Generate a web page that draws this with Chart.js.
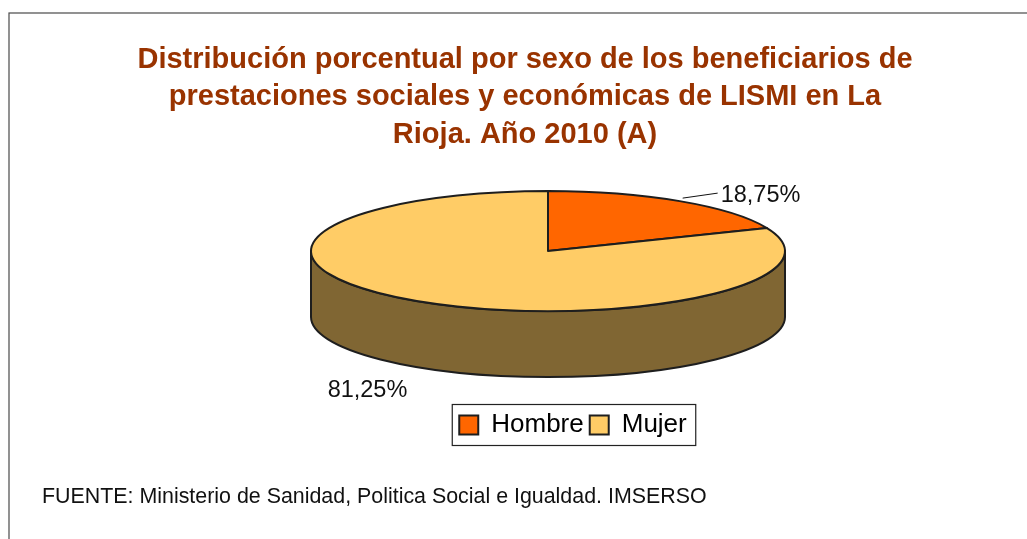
<!DOCTYPE html>
<html lang="es">
<head>
<meta charset="utf-8">
<title>Distribución porcentual por sexo - LISMI La Rioja 2010</title>
<script src="https://cdn.jsdelivr.net/npm/chart.js@4.4.1/dist/chart.umd.min.js"></script>
<style>
  html, body { margin: 0; padding: 0; background: #fff; }
  #wrap { position: relative; width: 1027px; height: 539px; }
</style>
</head>
<body>
<div id="wrap"><canvas id="chart" width="1027" height="539"></canvas></div>
<script>
/* ---------------- Data ---------------- */
const categories = ['Hombre', 'Mujer'];
const percentages = [18.75, 81.25];
const titleLines = [
  'Distribución porcentual por sexo de los beneficiarios de',
  'prestaciones sociales y económicas de LISMI en La',
  'Rioja. Año 2010 (A)'
];
const sourceNote = 'FUENTE: Ministerio de Sanidad, Politica Social e Igualdad. IMSERSO';

/* ---------------- Look ---------------- */
const FONT = '"Liberation Sans", Arial, Helvetica, sans-serif';
const topColors = ['#FF6600', '#FFCC66'];
const sideColors = ['#803300', '#806633'];
const OUTLINE = '#1e1e1e';

// 3D pie geometry (Excel style tilted pie)
const CX = 548, CY = 251, RX = 237, TILT = 60 / 237, DEPTH = 66;
const LEGEND_CX = 573, LEGEND_TOP = 406;

const fmtPct = v => v.toFixed(2).replace('.', ',') + '%';

// parts of [s,e] lying on the front half of the ellipse (sin > 0)
function frontSpans(s, e) {
  const out = [];
  for (let k = -1; k <= 1; k++) {
    const a = Math.max(s, 2 * Math.PI * k), b = Math.min(e, 2 * Math.PI * k + Math.PI);
    if (b > a) out.push([a, b]);
  }
  return out;
}

const pie3d = {
  id: 'pie3d',
  beforeDraw(chart) {
    const ctx = chart.ctx;
    ctx.save();
    ctx.strokeStyle = '#4a4a4a'; ctx.lineWidth = 1.2;
    ctx.strokeRect(9, 13, 1100, 600);
    ctx.restore();
  },
  afterLayout(chart) {
    // the pie box is the bounding box of the top face ellipse
    const ry = RX * TILT;
    Object.assign(chart.chartArea, {
      left: CX - RX, right: CX + RX, top: CY - ry, bottom: CY + ry, width: 2 * RX, height: 2 * ry
    });
    const lg = chart.legend;
    const dx = LEGEND_CX - (lg.left + lg.right) / 2, dy = LEGEND_TOP - lg.top;
    lg.left += dx; lg.right += dx; lg.top += dy; lg.bottom += dy;
  },
  beforeDatasetDraw(chart, args) {
    const ctx = chart.ctx;
    const arcs = args.meta.data;
    const { x: cx, y: cy, outerRadius: rx } = arcs[0];
    const ry = rx * TILT;
    ctx.save();
    ctx.lineJoin = 'round';
    ctx.strokeStyle = OUTLINE; ctx.lineWidth = 2;
    // side walls first
    arcs.forEach((arc, i) => {
      frontSpans(arc.startAngle, arc.endAngle).forEach(([s, e]) => {
        ctx.beginPath();
        ctx.ellipse(cx, cy, rx, ry, 0, s, e);
        ctx.lineTo(cx + rx * Math.cos(e), cy + ry * Math.sin(e) + DEPTH);
        ctx.ellipse(cx, cy + DEPTH, rx, ry, 0, e, s, true);
        ctx.closePath();
        ctx.fillStyle = sideColors[i]; ctx.fill(); ctx.stroke();
      });
    });
    // top faces
    arcs.forEach(arc => {
      ctx.beginPath();
      ctx.moveTo(cx, cy);
      ctx.ellipse(cx, cy, rx, ry, 0, arc.startAngle, arc.endAngle);
      ctx.closePath();
      ctx.fillStyle = arc.options.backgroundColor; ctx.fill(); ctx.stroke();
    });
    ctx.restore();
    return false;
  },
  afterDraw(chart) {
    const ctx = chart.ctx;
    const arcs = chart.getDatasetMeta(0).data;
    const { x: cx, y: cy, outerRadius: rx } = arcs[0];
    const ry = rx * TILT;
    ctx.save();
    // value labels
    ctx.font = '23.5px ' + FONT;
    ctx.fillStyle = '#111'; ctx.strokeStyle = '#111'; ctx.lineWidth = 1;
    ctx.textBaseline = 'middle';
    arcs.forEach((arc, i) => {
      const mid = (arc.startAngle + arc.endAngle) / 2;
      const c = Math.cos(mid), s = Math.sin(mid);
      const px = cx + rx * c, py = cy + ry * s + (s > 0 ? DEPTH : 0);
      const txt = fmtPct(percentages[i]);
      if (c > 0) {
        ctx.beginPath();
        ctx.moveTo(px + 3, py - 3);
        ctx.lineTo(px + 38, py - 8);
        ctx.stroke();
        ctx.textAlign = 'left';
        ctx.fillText(txt, px + 41, py - 6);
      } else {
        ctx.textAlign = 'right';
        ctx.fillText(txt, px - 9, py + 24);
      }
    });
    // legend frame
    const hb = chart.legend.legendHitBoxes;
    if (hb && hb.length) {
      const last = hb[hb.length - 1];
      const l = hb[0].left - 7, r = last.left + last.width + 9;
      const my = hb[0].top + hb[0].height / 2;
      ctx.strokeStyle = '#222'; ctx.lineWidth = 1.2;
      ctx.strokeRect(l, my - 20.5, r - l, 41);
    }
    // source note
    ctx.font = '21.4px ' + FONT;
    ctx.fillStyle = '#111';
    ctx.textAlign = 'left';
    ctx.fillText(sourceNote, 42, 497);
    ctx.restore();
  }
};

new Chart(document.getElementById('chart'), {
  type: 'pie',
  data: {
    labels: categories,
    datasets: [{
      data: percentages,
      backgroundColor: topColors,
      borderColor: OUTLINE,
      borderWidth: 2,
      radius: RX
    }]
  },
  options: {
    responsive: false,
    animation: false,
    devicePixelRatio: 1,
    layout: { padding: { left: 23, right: 0, top: 0, bottom: 0 } },
    plugins: {
      title: {
        display: true,
        text: titleLines,
        color: '#993300',
        font: { family: FONT, size: 29, weight: 'bold', lineHeight: 37.5 / 29 },
        padding: { top: 41, bottom: 0 }
      },
      legend: {
        display: true,
        position: 'bottom',
        labels: {
          color: '#000',
          font: { family: FONT, size: 26 },
          boxWidth: 19,
          boxHeight: 19,
          padding: 6
        }
      },
      tooltip: { enabled: false }
    }
  },
  plugins: [pie3d]
});
</script>
</body>
</html>
